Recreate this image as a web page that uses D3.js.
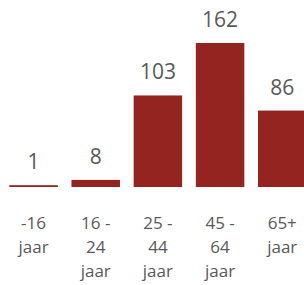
<!DOCTYPE html>
<html>
<head>
<meta charset="utf-8">
<script src="https://cdn.jsdelivr.net/npm/d3@7"></script>
<style>
  html, body { margin: 0; padding: 0; background: #fff; }
  svg { display: block; }
</style>
</head>
<body>
<div id="chart"></div>
<script>
// age groups and counts
var categories = ["-16 jaar", "16 - 24 jaar", "25 - 44 jaar", "45 - 64 jaar", "65+ jaar"];
var labelLines = [["-16", "jaar"], ["16 -", "24", "jaar"], ["25 -", "44", "jaar"], ["45 -", "64", "jaar"], ["65+", "jaar"]];
var values = [1, 8, 103, 162, 86];

const width = 304;
const height = 285;
const baseline = 187;

const svg = d3.select("#chart").append("svg")
  .attr("width", width)
  .attr("height", height);

const x = d3.scaleBand()
  .domain(categories)
  .range([9.3, 306.5])
  .paddingInner(0.22)
  .paddingOuter(0);

const y = d3.scaleLinear()
  .domain([0, 180])
  .range([baseline, 27]);

// bars
svg.append("g")
  .selectAll("rect")
  .data(values)
  .join("rect")
  .attr("x", (d, i) => x(categories[i]))
  .attr("width", x.bandwidth())
  .attr("y", d => Math.min(y(d), baseline - 1.8))
  .attr("height", d => Math.max(baseline - y(d), 1.8))
  .attr("fill", "#93241f");

// value labels
svg.append("g")
  .selectAll("text")
  .data(values)
  .join("text")
  .attr("x", (d, i) => x(categories[i]) + x.bandwidth() / 2)
  .attr("y", d => Math.min(y(d), baseline - 1.8) - 16)
  .attr("text-anchor", "middle")
  .attr("font-family", "'Open Sans', sans-serif")
  .attr("font-size", "21px")
  .attr("fill", "#595959")
  .text(d => d);

// category labels, wrapped
const cat = svg.append("g")
  .selectAll("text")
  .data(categories)
  .join("text")
  .attr("x", d => x(d) + x.bandwidth() / 2)
  .attr("y", 229)
  .attr("text-anchor", "middle")
  .attr("font-family", "'Open Sans', sans-serif")
  .attr("font-size", "17px")
  .attr("fill", "#595959");

cat.selectAll("tspan")
  .data((d, i) => labelLines[i])
  .join("tspan")
  .attr("x", function() { return this.parentNode.getAttribute("x"); })
  .attr("dy", (d, j) => j === 0 ? 0 : 24)
  .text(d => d);
</script>
</body>
</html>
